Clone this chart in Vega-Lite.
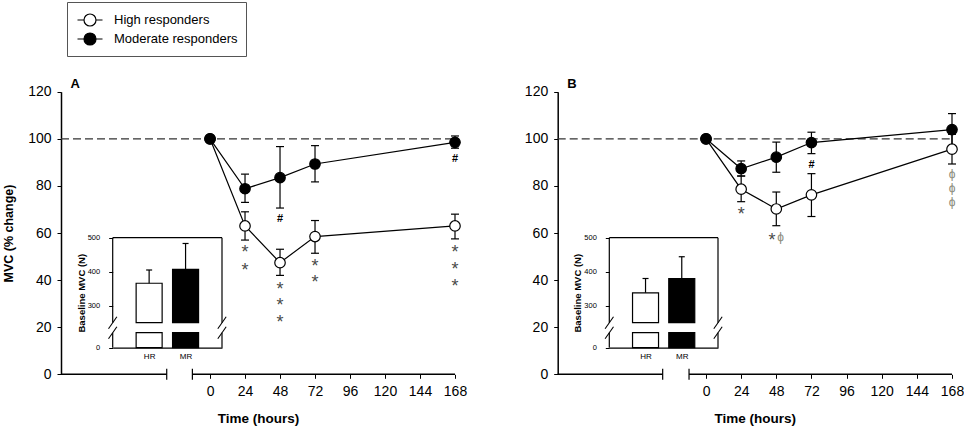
{
  "$schema": "https://vega.github.io/schema/vega-lite/v6.json",
  "width": 964,
  "height": 430,
  "autosize": {"type": "none"},
  "padding": 0,
  "config": {
    "view": {"stroke": null},
    "font": "Liberation Sans",
    "axis": {"grid": false, "domainColor": "black", "tickColor": "black", "labelColor": "black", "titleColor": "black", "labelFont": "Liberation Sans", "titleFont": "Liberation Sans", "labelFlush": false},
    "text": {"font": "Liberation Sans"}
  },
  "datasets": {
    "means": [
      {"panel": "A", "group": "High responders", "t": 0, "v": 100, "lo": 100, "hi": 100},
      {"panel": "A", "group": "High responders", "t": 24, "v": 63, "lo": 57, "hi": 69},
      {"panel": "A", "group": "High responders", "t": 48, "v": 47.4, "lo": 42, "hi": 53.1},
      {"panel": "A", "group": "High responders", "t": 72, "v": 58.5, "lo": 51.4, "hi": 65.3},
      {"panel": "A", "group": "High responders", "t": 168, "v": 63, "lo": 57.5, "hi": 68},
      {"panel": "A", "group": "Moderate responders", "t": 0, "v": 100, "lo": 100, "hi": 100},
      {"panel": "A", "group": "Moderate responders", "t": 24, "v": 78.8, "lo": 73, "hi": 85},
      {"panel": "A", "group": "Moderate responders", "t": 48, "v": 83.5, "lo": 70.6, "hi": 96.7},
      {"panel": "A", "group": "Moderate responders", "t": 72, "v": 89.3, "lo": 81.7, "hi": 97.1},
      {"panel": "A", "group": "Moderate responders", "t": 168, "v": 98.5, "lo": 96, "hi": 101.2},
      {"panel": "B", "group": "High responders", "t": 0, "v": 100, "lo": 100, "hi": 100},
      {"panel": "B", "group": "High responders", "t": 24, "v": 78.6, "lo": 73.3, "hi": 84.2},
      {"panel": "B", "group": "High responders", "t": 48, "v": 70.2, "lo": 63.1, "hi": 77.4},
      {"panel": "B", "group": "High responders", "t": 72, "v": 76.2, "lo": 67, "hi": 85.2},
      {"panel": "B", "group": "High responders", "t": 168, "v": 95.6, "lo": 89.3, "hi": 101.9},
      {"panel": "B", "group": "Moderate responders", "t": 0, "v": 100, "lo": 100, "hi": 100},
      {"panel": "B", "group": "Moderate responders", "t": 24, "v": 87.3, "lo": 84.2, "hi": 90.6},
      {"panel": "B", "group": "Moderate responders", "t": 48, "v": 92.2, "lo": 85.8, "hi": 98.6},
      {"panel": "B", "group": "Moderate responders", "t": 72, "v": 98.4, "lo": 93.7, "hi": 102.8},
      {"panel": "B", "group": "Moderate responders", "t": 168, "v": 103.9, "lo": 97.1, "hi": 110.7}
    ],
    "notes": [
      {"panel": "A", "kind": "letter", "t": -92.4, "v": 123.4, "label": "A"},
      {"panel": "A", "kind": "hash", "t": 48, "v": 66, "label": "#"},
      {"panel": "A", "kind": "hash", "t": 168, "v": 91.4, "label": "#"},
      {"panel": "A", "kind": "star", "t": 24, "v": 53, "label": "*"},
      {"panel": "A", "kind": "star", "t": 24, "v": 45.5, "label": "*"},
      {"panel": "A", "kind": "star", "t": 48, "v": 37.6, "label": "*"},
      {"panel": "A", "kind": "star", "t": 48, "v": 30.6, "label": "*"},
      {"panel": "A", "kind": "star", "t": 48, "v": 23.4, "label": "*"},
      {"panel": "A", "kind": "star", "t": 72, "v": 47.4, "label": "*"},
      {"panel": "A", "kind": "star", "t": 72, "v": 40.4, "label": "*"},
      {"panel": "A", "kind": "star", "t": 168, "v": 53.1, "label": "*"},
      {"panel": "A", "kind": "star", "t": 168, "v": 46, "label": "*"},
      {"panel": "A", "kind": "star", "t": 168, "v": 38.7, "label": "*"},
      {"panel": "B", "kind": "letter", "t": -91.5, "v": 123.4, "label": "B"},
      {"panel": "B", "kind": "hash", "t": 72, "v": 88.9, "label": "#"},
      {"panel": "B", "kind": "star", "t": 24, "v": 69.5, "label": "*"},
      {"panel": "B", "kind": "star", "t": 45, "v": 58.5, "label": "*"},
      {"panel": "B", "kind": "phi", "t": 51, "v": 58.5, "label": "ϕ"},
      {"panel": "B", "kind": "phi", "t": 168, "v": 85, "label": "ϕ"},
      {"panel": "B", "kind": "phi", "t": 168, "v": 79, "label": "ϕ"},
      {"panel": "B", "kind": "phi", "t": 168, "v": 73, "label": "ϕ"}
    ],
    "guides": [
      {"panel": "A", "kind": "ref", "t": -102.2, "t2": 168, "v": 100},
      {"panel": "A", "kind": "axis", "t": -102.2, "t2": -29.7, "v": 0},
      {"panel": "A", "kind": "axis", "t": -12.1, "t2": 168, "v": 0},
      {"panel": "A", "kind": "break", "t": -29.7, "v": 0},
      {"panel": "A", "kind": "break", "t": -12.1, "v": 0},
      {"panel": "B", "kind": "ref", "t": -101.3, "t2": 168, "v": 100},
      {"panel": "B", "kind": "axis", "t": -101.3, "t2": -29.6, "v": 0},
      {"panel": "B", "kind": "axis", "t": -11.6, "t2": 168, "v": 0},
      {"panel": "B", "kind": "break", "t": -29.6, "v": 0},
      {"panel": "B", "kind": "break", "t": -11.6, "v": 0}
    ],
    "baseline": [
      {"panel": "A", "grp": "HR", "group": "High responders", "mean": 366, "top": 405},
      {"panel": "A", "grp": "MR", "group": "Moderate responders", "mean": 407, "top": 483},
      {"panel": "B", "grp": "HR", "group": "High responders", "mean": 338, "top": 380},
      {"panel": "B", "grp": "MR", "group": "Moderate responders", "mean": 380, "top": 444}
    ],
    "frame": [
      {"e": "L", "a": 0, "b": 44},
      {"e": "L", "a": 250, "b": 500},
      {"e": "R", "a": 0, "b": 44},
      {"e": "R", "a": 250, "b": 500}
    ],
    "slashes": [
      {"e": "L", "y": 44},
      {"e": "L", "y": 250},
      {"e": "R", "y": 44},
      {"e": "R", "y": 250}
    ]
  },
  "layer": [
    {
      "layer": [
        {
          "layer": [
            {
              "data": {"name": "guides"},
              "transform": [{"filter": "datum.panel === 'A' && datum.kind === 'ref'"}],
              "mark": {"type": "rule", "strokeDash": [8, 4], "stroke": "#333", "strokeWidth": 1.2},
              "encoding": {
                "x": {"field": "t", "type": "quantitative", "scale": {"domain": [-102.2, 168], "range": [61, 455], "nice": false, "zero": false},
                  "axis": {"orient": "bottom", "offset": -55.7, "domain": false, "values": [0, 24, 48, 72, 96, 120, 144, 168], "tickSize": 4, "labelPadding": 6, "labelFontSize": 14, "labelFlush": false, "title": "Time (hours)", "titleFontSize": 13.5, "titleFontWeight": "bold", "titlePadding": 13}},
                "x2": {"field": "t2"},
                "y": {"field": "v", "type": "quantitative", "scale": {"domain": [0, 120], "range": [374.3, 91.7], "nice": false, "zero": false},
                  "axis": {"orient": "left", "offset": -61, "values": [0, 20, 40, 60, 80, 100, 120], "tickSize": 4, "labelPadding": 6, "labelFontSize": 14, "domainWidth": 1.5, "title": "MVC (% change)", "titleFontSize": 12.5, "titleFontWeight": "bold", "titlePadding": 12}}
              }
            },
            {
              "data": {"name": "guides"},
              "transform": [{"filter": "datum.panel === 'A' && datum.kind === 'axis'"}],
              "mark": {"type": "rule", "color": "black", "strokeWidth": 1.5},
              "encoding": {"x": {"field": "t", "type": "quantitative"}, "x2": {"field": "t2"}, "y": {"field": "v", "type": "quantitative"}}
            },
            {
              "data": {"name": "guides"},
              "transform": [{"filter": "datum.panel === 'A' && datum.kind === 'break'"}],
              "mark": {"type": "tick", "orient": "vertical", "size": 11, "thickness": 1.2, "color": "black", "opacity": 1},
              "encoding": {"x": {"field": "t", "type": "quantitative"}, "y": {"field": "v", "type": "quantitative"}}
            },
            {
              "data": {"name": "means"},
              "transform": [{"filter": "datum.panel === 'A'"}],
              "mark": {"type": "rule", "color": "black", "strokeWidth": 1.2},
              "encoding": {"x": {"field": "t", "type": "quantitative"}, "y": {"field": "lo", "type": "quantitative"}, "y2": {"field": "hi"}}
            },
            {
              "data": {"name": "means"},
              "transform": [{"filter": "datum.panel === 'A'"}, {"fold": ["lo", "hi"], "as": ["end", "cap"]}],
              "mark": {"type": "tick", "orient": "horizontal", "size": 8, "thickness": 1.2, "color": "black", "opacity": 1},
              "encoding": {"x": {"field": "t", "type": "quantitative"}, "y": {"field": "cap", "type": "quantitative"}}
            },
            {
              "data": {"name": "means"},
              "transform": [{"filter": "datum.panel === 'A'"}],
              "mark": {"type": "line", "color": "black", "strokeWidth": 1.2},
              "encoding": {"x": {"field": "t", "type": "quantitative"}, "y": {"field": "v", "type": "quantitative"}, "detail": {"field": "group"}}
            },
            {
              "data": {"name": "means"},
              "transform": [{"filter": "datum.panel === 'A'"}],
              "mark": {"type": "point", "shape": "circle", "filled": true, "stroke": "black", "strokeWidth": 1.2, "size": 110, "opacity": 1},
              "encoding": {
                "x": {"field": "t", "type": "quantitative"},
                "y": {"field": "v", "type": "quantitative"},
                "fill": {"field": "group", "type": "nominal", "scale": {"domain": ["High responders", "Moderate responders"], "range": ["white", "black"]},
                  "legend": {"orient": "none", "legendX": 67, "legendY": 2, "direction": "vertical", "title": null,
                    "symbolType": "M-1.39,0L-0.667,0M0.667,0L1.39,0M0.667,0A0.667,0.667,0,1,1,-0.667,0A0.667,0.667,0,1,1,0.667,0Z",
                    "symbolSize": 324, "symbolStrokeColor": "black", "symbolStrokeWidth": 1.2, "symbolOffset": 5, "labelOffset": 14,
                    "labelFontSize": 13, "labelColor": "black", "labelFont": "Liberation Sans", "rowPadding": 0, "padding": 8,
                    "strokeColor": "#555", "fillColor": "white"}}
              }
            },
            {
              "data": {"name": "notes"},
              "transform": [{"filter": "datum.panel === 'A' && datum.kind === 'star'"}],
              "mark": {"type": "text", "fontSize": 18, "color": "#4a4a4a", "dy": 4},
              "encoding": {"x": {"field": "t", "type": "quantitative"}, "y": {"field": "v", "type": "quantitative"}, "text": {"field": "label"}}
            },
            {
              "data": {"name": "notes"},
              "transform": [{"filter": "datum.panel === 'A' && datum.kind === 'hash'"}],
              "mark": {"type": "text", "fontSize": 11, "fontWeight": "bold", "color": "black"},
              "encoding": {"x": {"field": "t", "type": "quantitative"}, "y": {"field": "v", "type": "quantitative"}, "text": {"field": "label"}}
            },
            {
              "data": {"name": "notes"},
              "transform": [{"filter": "datum.panel === 'A' && datum.kind === 'letter'"}],
              "mark": {"type": "text", "fontSize": 13, "fontWeight": "bold", "color": "black"},
              "encoding": {"x": {"field": "t", "type": "quantitative"}, "y": {"field": "v", "type": "quantitative"}, "text": {"field": "label"}}
            }
          ]
        },
        {
          "layer": [
            {
              "data": {"name": "frame"},
              "mark": {"type": "rule", "color": "black", "strokeWidth": 1.2},
              "encoding": {
                "x": {"field": "e", "type": "nominal", "scale": {"type": "point", "domain": ["L", "HR", "MR", "R"], "range": [112.7, 222], "padding": 0},
                  "axis": {"orient": "bottom", "offset": -82.3, "values": ["HR", "MR"], "ticks": false, "labelFontSize": 8, "labelPadding": 5, "labelAngle": 0, "domainWidth": 1.2, "title": null}},
                "y": {"field": "a", "type": "quantitative", "scale": {"domain": [0, 44, 250, 500], "range": [347.7, 332.7, 322.7, 237.7], "nice": false, "zero": false},
                  "axis": {"orient": "left", "offset": -112.7, "values": [0, 300, 400, 500], "domain": false, "tickSize": 4, "labelFontSize": 7.5, "labelPadding": 9, "title": "Baseline MVC (N)", "titleFontSize": 9.5, "titleFontWeight": "bold", "titlePadding": 1}},
                "y2": {"field": "b"}
              }
            },
            {
              "data": {"values": [{}]},
              "mark": {"type": "rule", "color": "black", "strokeWidth": 1.2},
              "encoding": {"x": {"datum": "L"}, "x2": {"datum": "R"}, "y": {"datum": 500}}
            },
            {
              "data": {"name": "baseline"},
              "transform": [{"filter": "datum.panel === 'A'"}],
              "mark": {"type": "bar", "width": 26, "stroke": "black", "strokeWidth": 1.2},
              "encoding": {"x": {"field": "grp", "type": "nominal", "scale": {"type": "point"}}, "y": {"datum": 44}, "y2": {"datum": 0}, "fill": {"field": "group", "type": "nominal"}}
            },
            {
              "data": {"name": "baseline"},
              "transform": [{"filter": "datum.panel === 'A'"}],
              "mark": {"type": "bar", "width": 26, "stroke": "black", "strokeWidth": 1.2},
              "encoding": {"x": {"field": "grp", "type": "nominal", "scale": {"type": "point"}}, "y": {"field": "mean", "type": "quantitative"}, "y2": {"datum": 250}, "fill": {"field": "group", "type": "nominal"}}
            },
            {
              "data": {"name": "baseline"},
              "transform": [{"filter": "datum.panel === 'A'"}],
              "mark": {"type": "rule", "color": "black", "strokeWidth": 1.2},
              "encoding": {"x": {"field": "grp", "type": "nominal"}, "y": {"field": "mean", "type": "quantitative"}, "y2": {"field": "top"}}
            },
            {
              "data": {"name": "baseline"},
              "transform": [{"filter": "datum.panel === 'A'"}],
              "mark": {"type": "tick", "orient": "horizontal", "size": 6, "thickness": 1.2, "color": "black", "opacity": 1},
              "encoding": {"x": {"field": "grp", "type": "nominal"}, "y": {"field": "top", "type": "quantitative"}}
            },
            {
              "data": {"name": "slashes"},
              "mark": {"type": "point", "shape": "M-0.7,1L0.7,-1", "size": 144, "stroke": "black", "strokeWidth": 1.1, "filled": false, "opacity": 1},
              "encoding": {"x": {"field": "e", "type": "nominal"}, "y": {"field": "y", "type": "quantitative"}}
            }
          ]
        }
      ],
      "resolve": {"scale": {"x": "independent", "y": "independent"}, "axis": {"x": "independent", "y": "independent"}}
    },
    {
      "layer": [
        {
          "layer": [
            {
              "data": {"name": "guides"},
              "transform": [{"filter": "datum.panel === 'B' && datum.kind === 'ref'"}],
              "mark": {"type": "rule", "strokeDash": [8, 4], "stroke": "#333", "strokeWidth": 1.2},
              "encoding": {
                "x": {"field": "t", "type": "quantitative", "scale": {"domain": [-101.3, 168], "range": [557.7, 952], "nice": false, "zero": false},
                  "axis": {"orient": "bottom", "offset": -55.7, "domain": false, "values": [0, 24, 48, 72, 96, 120, 144, 168], "tickSize": 4, "labelPadding": 6, "labelFontSize": 14, "labelFlush": false, "title": "Time (hours)", "titleFontSize": 13.5, "titleFontWeight": "bold", "titlePadding": 13}},
                "x2": {"field": "t2"},
                "y": {"field": "v", "type": "quantitative", "scale": {"domain": [0, 120], "range": [374.3, 91.7], "nice": false, "zero": false},
                  "axis": {"orient": "left", "offset": -557.7, "values": [0, 20, 40, 60, 80, 100, 120], "tickSize": 4, "labelPadding": 6, "labelFontSize": 14, "domainWidth": 1.5, "title": null}}
              }
            },
            {
              "data": {"name": "guides"},
              "transform": [{"filter": "datum.panel === 'B' && datum.kind === 'axis'"}],
              "mark": {"type": "rule", "color": "black", "strokeWidth": 1.5},
              "encoding": {"x": {"field": "t", "type": "quantitative"}, "x2": {"field": "t2"}, "y": {"field": "v", "type": "quantitative"}}
            },
            {
              "data": {"name": "guides"},
              "transform": [{"filter": "datum.panel === 'B' && datum.kind === 'break'"}],
              "mark": {"type": "tick", "orient": "vertical", "size": 11, "thickness": 1.2, "color": "black", "opacity": 1},
              "encoding": {"x": {"field": "t", "type": "quantitative"}, "y": {"field": "v", "type": "quantitative"}}
            },
            {
              "data": {"name": "means"},
              "transform": [{"filter": "datum.panel === 'B'"}],
              "mark": {"type": "rule", "color": "black", "strokeWidth": 1.2},
              "encoding": {"x": {"field": "t", "type": "quantitative"}, "y": {"field": "lo", "type": "quantitative"}, "y2": {"field": "hi"}}
            },
            {
              "data": {"name": "means"},
              "transform": [{"filter": "datum.panel === 'B'"}, {"fold": ["lo", "hi"], "as": ["end", "cap"]}],
              "mark": {"type": "tick", "orient": "horizontal", "size": 8, "thickness": 1.2, "color": "black", "opacity": 1},
              "encoding": {"x": {"field": "t", "type": "quantitative"}, "y": {"field": "cap", "type": "quantitative"}}
            },
            {
              "data": {"name": "means"},
              "transform": [{"filter": "datum.panel === 'B'"}],
              "mark": {"type": "line", "color": "black", "strokeWidth": 1.2},
              "encoding": {"x": {"field": "t", "type": "quantitative"}, "y": {"field": "v", "type": "quantitative"}, "detail": {"field": "group"}}
            },
            {
              "data": {"name": "means"},
              "transform": [{"filter": "datum.panel === 'B'"}],
              "mark": {"type": "point", "shape": "circle", "filled": true, "stroke": "black", "strokeWidth": 1.2, "size": 110, "opacity": 1},
              "encoding": {"x": {"field": "t", "type": "quantitative"}, "y": {"field": "v", "type": "quantitative"}, "fill": {"field": "group", "type": "nominal"}}
            },
            {
              "data": {"name": "notes"},
              "transform": [{"filter": "datum.panel === 'B' && datum.kind === 'star'"}],
              "mark": {"type": "text", "fontSize": 18, "color": "#4a4a4a", "dy": 4},
              "encoding": {"x": {"field": "t", "type": "quantitative"}, "y": {"field": "v", "type": "quantitative"}, "text": {"field": "label"}}
            },
            {
              "data": {"name": "notes"},
              "transform": [{"filter": "datum.panel === 'B' && datum.kind === 'phi'"}],
              "mark": {"type": "text", "fontSize": 12, "color": "#8a8a7a"},
              "encoding": {"x": {"field": "t", "type": "quantitative"}, "y": {"field": "v", "type": "quantitative"}, "text": {"field": "label"}}
            },
            {
              "data": {"name": "notes"},
              "transform": [{"filter": "datum.panel === 'B' && datum.kind === 'hash'"}],
              "mark": {"type": "text", "fontSize": 11, "fontWeight": "bold", "color": "black"},
              "encoding": {"x": {"field": "t", "type": "quantitative"}, "y": {"field": "v", "type": "quantitative"}, "text": {"field": "label"}}
            },
            {
              "data": {"name": "notes"},
              "transform": [{"filter": "datum.panel === 'B' && datum.kind === 'letter'"}],
              "mark": {"type": "text", "fontSize": 13, "fontWeight": "bold", "color": "black"},
              "encoding": {"x": {"field": "t", "type": "quantitative"}, "y": {"field": "v", "type": "quantitative"}, "text": {"field": "label"}}
            }
          ]
        },
        {
          "layer": [
            {
              "data": {"name": "frame"},
              "mark": {"type": "rule", "color": "black", "strokeWidth": 1.2},
              "encoding": {
                "x": {"field": "e", "type": "nominal", "scale": {"type": "point", "domain": ["L", "HR", "MR", "R"], "range": [609.3, 718], "padding": 0},
                  "axis": {"orient": "bottom", "offset": -82.3, "values": ["HR", "MR"], "ticks": false, "labelFontSize": 8, "labelPadding": 5, "labelAngle": 0, "domainWidth": 1.2, "title": null}},
                "y": {"field": "a", "type": "quantitative", "scale": {"domain": [0, 44, 250, 500], "range": [347.7, 332.7, 322.7, 237.7], "nice": false, "zero": false},
                  "axis": {"orient": "left", "offset": -609.3, "values": [0, 300, 400, 500], "domain": false, "tickSize": 4, "labelFontSize": 7.5, "labelPadding": 9, "title": "Baseline MVC (N)", "titleFontSize": 9.5, "titleFontWeight": "bold", "titlePadding": 1}},
                "y2": {"field": "b"}
              }
            },
            {
              "data": {"values": [{}]},
              "mark": {"type": "rule", "color": "black", "strokeWidth": 1.2},
              "encoding": {"x": {"datum": "L"}, "x2": {"datum": "R"}, "y": {"datum": 500}}
            },
            {
              "data": {"name": "baseline"},
              "transform": [{"filter": "datum.panel === 'B'"}],
              "mark": {"type": "bar", "width": 26, "stroke": "black", "strokeWidth": 1.2},
              "encoding": {"x": {"field": "grp", "type": "nominal", "scale": {"type": "point"}}, "y": {"datum": 44}, "y2": {"datum": 0}, "fill": {"field": "group", "type": "nominal"}}
            },
            {
              "data": {"name": "baseline"},
              "transform": [{"filter": "datum.panel === 'B'"}],
              "mark": {"type": "bar", "width": 26, "stroke": "black", "strokeWidth": 1.2},
              "encoding": {"x": {"field": "grp", "type": "nominal", "scale": {"type": "point"}}, "y": {"field": "mean", "type": "quantitative"}, "y2": {"datum": 250}, "fill": {"field": "group", "type": "nominal"}}
            },
            {
              "data": {"name": "baseline"},
              "transform": [{"filter": "datum.panel === 'B'"}],
              "mark": {"type": "rule", "color": "black", "strokeWidth": 1.2},
              "encoding": {"x": {"field": "grp", "type": "nominal"}, "y": {"field": "mean", "type": "quantitative"}, "y2": {"field": "top"}}
            },
            {
              "data": {"name": "baseline"},
              "transform": [{"filter": "datum.panel === 'B'"}],
              "mark": {"type": "tick", "orient": "horizontal", "size": 6, "thickness": 1.2, "color": "black", "opacity": 1},
              "encoding": {"x": {"field": "grp", "type": "nominal"}, "y": {"field": "top", "type": "quantitative"}}
            },
            {
              "data": {"name": "slashes"},
              "mark": {"type": "point", "shape": "M-0.7,1L0.7,-1", "size": 144, "stroke": "black", "strokeWidth": 1.1, "filled": false, "opacity": 1},
              "encoding": {"x": {"field": "e", "type": "nominal"}, "y": {"field": "y", "type": "quantitative"}}
            }
          ]
        }
      ],
      "resolve": {"scale": {"x": "independent", "y": "independent"}, "axis": {"x": "independent", "y": "independent"}}
    }
  ],
  "resolve": {"scale": {"x": "independent", "y": "independent"}, "axis": {"x": "independent", "y": "independent"}}
}
